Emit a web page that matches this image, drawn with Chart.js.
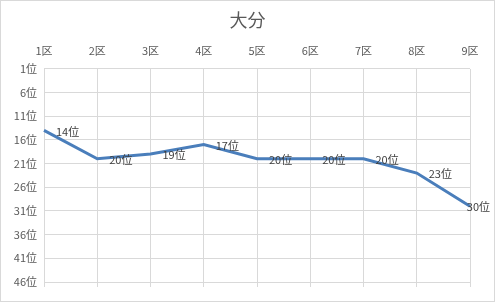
<!DOCTYPE html>
<html><head><meta charset="utf-8">
<script src="https://cdn.jsdelivr.net/npm/chart.js@4/dist/chart.umd.min.js"></script>
<style>html,body{margin:0;padding:0;background:#fff}canvas{display:block}</style>
</head><body>
<canvas id="c" width="495" height="302"></canvas>
<script>
const title = "大分";
const categories = ["1区","2区","3区","4区","5区","6区","7区","8区","9区"];
const ranks = [14,20,19,17,20,20,20,23,30];
const rankMin = 1, rankMax = 46, rankStep = 5;
const suffix = "位";
const FONT = "'Noto Sans CJK JP','Noto Sans',sans-serif";

const borderPlugin = {
  id:'border',
  beforeDraw(chart){
    const c = chart.ctx;
    c.save(); c.fillStyle='#fff'; c.fillRect(0,0,chart.width,chart.height);
    c.strokeStyle='#d9d9d9'; c.lineWidth=1;
    c.strokeRect(0.5,0.5,chart.width-1,chart.height-1); c.restore();
  }
};
const labelPlugin = {
  id:'pointLabels',
  afterDatasetsDraw(chart){
    const c = chart.ctx;
    const meta = chart.getDatasetMeta(0);
    c.save();
    c.font = "11px " + FONT;
    c.fillStyle = '#404040';
    c.textBaseline = 'middle';
    c.textAlign = 'left';
    meta.data.forEach((pt,i)=>{
      const txt = chart.data.datasets[0].data[i] + suffix;
      const w = c.measureText(txt).width;
      let x = pt.x + 12;
      if (x + w > chart.width - 5) x = chart.width - 5 - w;
      c.fillText(txt, x, pt.y + 1);
    });
    c.restore();
  }
};

new Chart(document.getElementById('c'), {
  type:'line',
  data:{ labels:categories, datasets:[{ data:ranks, borderColor:'#4a7ebb', borderWidth:3, pointRadius:0, tension:0, fill:false, xAxisID:'x', yAxisID:'y' }]},
  options:{
    responsive:false, animation:false,
    layout:{ padding:{left:0,right:0,top:0,bottom:15} },
    plugins:{
      legend:{display:false}, tooltip:{enabled:false},
      title:{ display:true, text:title, color:'#595959', font:{family:FONT,size:18,weight:'normal'}, padding:{top:9,bottom:3} }
    },
    scales:{
      x:{ position:'top', offset:false,
          grid:{ color:'#d9d9d9', drawTicks:false },
          border:{ display:false },
          ticks:{ color:'#595959', font:{family:FONT,size:11}, padding:11, maxRotation:0, autoSkip:false } },
      x2:{ position:'bottom', offset:false, labels:categories,
          grid:{ color:'#d9d9d9', drawOnChartArea:false, drawTicks:true, tickLength:5 },
          border:{ display:false },
          ticks:{ display:false } },
      y:{ reverse:true, min:rankMin, max:rankMax,
          grid:{ color:'#d9d9d9', drawTicks:false },
          border:{ display:false },
          afterFit(s){ s.width = 44; },
          ticks:{ stepSize:rankStep, color:'#595959', font:{family:FONT,size:11}, padding:7,
                  callback:(v)=> v + suffix } },
      y2:{ position:'right', min:rankMin, max:rankMax,
          grid:{ drawOnChartArea:false, drawTicks:false },
          border:{ display:false },
          afterFit(s){ s.width = 25; },
          ticks:{ display:false } }
    }
  },
  plugins:[borderPlugin,labelPlugin]
});
</script>
</body></html>
